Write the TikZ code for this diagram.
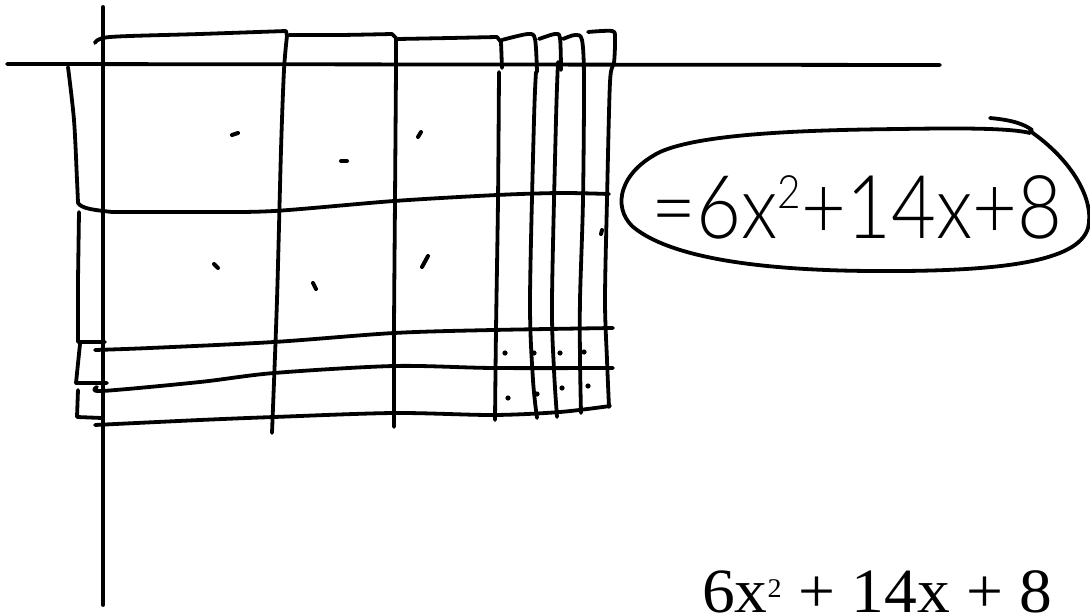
\documentclass[tikz,border=0pt]{standalone}
\usepackage{fontspec}
\IfFontExistsTF{Lato Light}{\newfontfamily\hand{Lato Light}}{%
  \IfFontExistsTF{Open Sans Light}{\newfontfamily\hand{Open Sans Light}}{\newfontfamily\hand{Liberation Sans}}}
\newfontfamily\tms{Liberation Serif}
\tikzset{
  hand/.style={line width=3.8pt, line cap=round, line join=round, black},
  dotmark/.style={line width=4pt, line cap=round, black},
  smalldot/.style={fill=black, draw=none},
}
\begin{document}
\begin{tikzpicture}[x=1pt,y=-1pt]
\fill[white] (0,0) rectangle (1090,615);
\useasboundingbox (0,0) rectangle (1090,615);
\clip (0,0) rectangle (1090,615);

% axes
\draw[hand] (7,64) -- (940,65);
\draw[hand] (103,7) -- (103,605);

% top brackets and vertical column lines
\draw[hand] plot[smooth, tension=0.5] coordinates {(95,43) (110,37) (200,34) (286,31)}
  -- (287,36) -- plot[smooth, tension=0.5] coordinates {(287,36) (284,70) (281,150) (277,300) (272,433)};
\draw[hand] plot[smooth, tension=0.5] coordinates {(289,35) (340,35) (392,34)}
  -- (396,38) -- plot[smooth, tension=0.5] coordinates {(396,38) (396,68) (395,200) (394,330) (394,427)};
\draw[hand] plot[smooth, tension=0.5] coordinates {(398,39) (450,38) (497,37)}
  -- (501,42) -- (502,68);
\draw[hand] plot[smooth, tension=0.5] coordinates {(499,72) (498,200) (496,330) (495,420)};
\draw[hand] plot[smooth, tension=0.5] coordinates {(502,40) (528,34) (535,39) (537,72)};
\draw[hand] plot[smooth, tension=0.5] coordinates {(536,72) (534,120) (530,300) (533,380) (537,418)};
\draw[hand] plot[smooth, tension=0.5] coordinates {(539,39) (555,34) (560,38) (561,70)};
\draw[hand] plot[smooth, tension=0.5] coordinates {(558,62) (556,120) (552,300) (554,370) (557,417)};
\draw[hand] plot[smooth, tension=0.5] coordinates {(563,39) (575,35) (582,40) (584,80) (583,200) (580,300) (580,360) (581,413)};
\draw[hand] plot[smooth, tension=0.5] coordinates {(588,32) (612,31) (615,38) (614,63) (610,82) (607,200) (605,300) (607,360) (609,407)};

% left brackets and horizontal row lines
\draw[hand] plot[smooth, tension=0.5] coordinates {(68,67) (74,120) (77,180) (78,203)}
  .. controls (82,209) and (95,210) .. (112,212)
  -- plot[smooth, tension=0.5] coordinates {(112,212) (200,212) (274,211) (394,201) (497,195) (560,193) (609,194)};
\draw[hand] (79,212) -- (78,280) -- (78,342) -- (105,342);
\draw[hand] plot[smooth, tension=0.5] coordinates {(95,350) (150,348) (274,342) (394,333) (493,330) (613,328)};
\draw[hand] (80,344) -- (76,383) -- (107,383);
\draw[hand] plot[smooth, tension=0.5] coordinates {(97,387) (102,391) (200,382) (274,373) (394,366) (493,368) (613,368)};
\draw[hand] (78,390) -- (77,417) -- (102,418);
\draw[hand] plot[smooth, tension=0.5] coordinates {(95,425) (200,420) (274,417) (394,413) (493,415) (560,412) (610,406)};

% marks in the large cells
\draw[dotmark] (232,135) -- (238,133);
\draw[dotmark] (341,161) -- (347,161);
\draw[dotmark] (418,137) -- (421,132);
\draw[dotmark] (214,264) -- (218,268);
\draw[dotmark] (313,283) -- (316,289);
\draw[dotmark] (422,267) -- (428,256);
\draw[dotmark] (601,234) -- (602,230);

% small dots
\foreach \p in {(505,353),(534,353),(560,353),(584,352),(508,398),(537,394),(562,388),(588,386)}
  \fill[smalldot] \p circle (2.6);

% oval around handwritten result
\draw[hand] (1030,131) .. controls (1072,160) and (1095,200) .. (1088,228)
  .. controls (1078,262) and (1000,272) .. (870,271)
  .. controls (735,270) and (662,252) .. (632,226)
  .. controls (612,206) and (620,172) .. (660,152)
  .. controls (700,134) and (800,130) .. (900,129)
  .. controls (960,128) and (1010,128) .. (1030,133);
\draw[hand] (990,118) .. controls (1012,120) and (1024,124) .. (1032,130);

\node[font=\hand\fontsize{88}{88}\selectfont, inner sep=0pt, anchor=base] (eq) at (857,238)
  {\scalebox{0.88}[1]{=6x\raisebox{30pt}{\fontsize{46}{46}\selectfont 2}+14x+8}};

% typeset result
\node[font=\tms\fontsize{63}{63}\selectfont, inner sep=0pt, text depth=0pt, anchor=base west] (res) at (702,612)
  {\scalebox{1.04}[1]{6x\raisebox{15pt}{\fontsize{27}{27}\selectfont 2} + 14x + 8}};
\end{tikzpicture}
\end{document}
